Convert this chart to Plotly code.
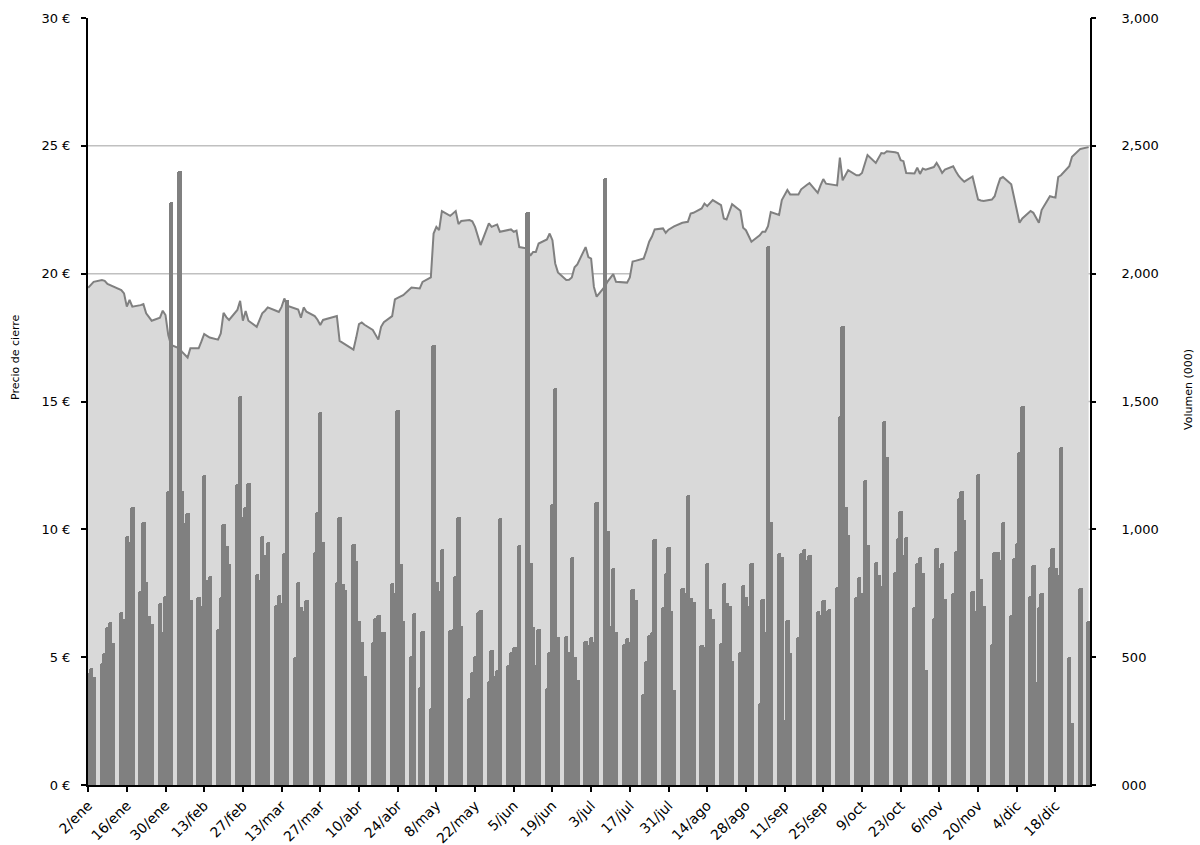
import plotly.graph_objects as go
import pandas as pd

# ---------------- data ----------------
holidays = ["2013-03-29", "2013-04-01", "2013-05-01", "2013-12-25", "2013-12-26"]
trading_days = pd.bdate_range("2013-01-02", "2013-12-30")
trading_days = trading_days[~trading_days.isin(pd.to_datetime(holidays))]

# daily volume (thousands of shares), one line per week
volume = [
    440, 458, 422,
    477, 516, 618, 637, 555,
    677, 650, 974, 950, 1087,
    759, 1029, 794, 661, 630,
    712, 600, 739, 1150, 2280,
    2400, 1150, 1025, 1064, 723,
    735, 700, 1212, 800, 817,
    610, 735, 1021, 935, 864,
    1177, 1520, 1050, 1087, 1181,
    825, 800, 974, 900, 951,
    704, 743, 712, 907, 1897,
    501, 794, 696, 680, 723,
    911, 1068, 1459, 951,
    794, 1048, 786, 763,
    943, 876, 641, 560, 426,
    559, 653, 665, 600, 598,
    790, 750, 1467, 864, 641,
    504, 673, 383, 602,
    301, 1721, 794, 760, 923,
    606, 610, 817, 1048, 622,
    340, 442, 504, 677, 685,
    407, 528, 426, 450, 1043,
    469, 520, 540, 540, 939,
    2242, 868, 618, 470, 610,
    379, 520, 1099, 1552, 580,
    583, 520, 890, 502, 411,
    564, 547, 580, 560, 1108,
    2375, 995, 620, 849, 600,
    551, 575, 560, 766, 723,
    356, 485, 587, 600, 961,
    696, 830, 931, 681, 372,
    770, 750, 1134, 731, 716,
    547, 540, 868, 688, 650,
    555, 790, 712, 700, 485,
    520, 782, 735, 700, 868,
    320, 727, 600, 2109, 1030,
    907, 893, 254, 645, 516,
    579, 907, 923, 880, 899,
    682, 665, 723, 680, 688,
    774, 1443, 1797, 1089, 978,
    735, 813, 750, 1193, 939,
    873, 821, 780, 1425, 1281,
    834, 965, 1073, 900, 971,
    697, 868, 891, 830, 450,
    653, 928, 850, 868, 727,
    752, 916, 1122, 1151, 1036,
    760, 680, 1216, 806, 700,
    551, 911, 912, 880, 1030,
    665, 887, 948, 1303, 1482,
    739, 860, 404, 697, 750,
    854, 928, 849, 820, 1323,
    502, 241, 769,
    641,
]

# daily closing price (EUR), one line per week
price = [
    19.45, 19.55, 19.68,
    19.75, 19.72, 19.60, 19.55, 19.50,
    19.36, 19.23, 18.71, 18.97, 18.71,
    18.77, 18.81, 18.45, 18.28, 18.16,
    18.28, 18.55, 18.38, 17.60, 17.21,
    17.08, 16.94, 16.82, 16.72, 17.08,
    17.08, 17.35, 17.64, 17.57, 17.50,
    17.42, 17.66, 18.47, 18.30, 18.19,
    18.58, 18.94, 18.16, 18.54, 18.16,
    17.92, 18.20, 18.45, 18.55, 18.68,
    18.55, 18.50, 18.70, 19.03, 18.75,
    18.64, 18.60, 18.28, 18.68, 18.51,
    18.34, 18.20, 17.99, 18.19,
    18.34, 17.37, 17.30, 17.24,
    17.03, 17.50, 18.03, 18.09, 18.00,
    17.80, 17.60, 17.42, 17.92, 18.10,
    18.34, 18.99, 19.05, 19.12, 19.16,
    19.46, 19.45, 19.42, 19.68,
    19.85, 21.57, 21.83, 21.70, 22.45,
    22.26, 22.35, 22.45, 21.94, 22.06,
    22.10, 22.05, 21.83, 21.50, 21.12,
    21.97, 21.83, 21.88, 21.92, 21.64,
    21.70, 21.73, 21.64, 21.68, 21.04,
    20.98, 20.70, 20.85, 20.85, 21.18,
    21.34, 21.57, 21.31, 20.40, 20.05,
    19.75, 19.76, 19.85, 20.25, 20.36,
    21.04, 20.65, 20.59, 19.49, 19.10,
    19.50, 19.70, 19.85, 19.98, 19.68,
    19.67, 19.65, 19.85, 20.47, 20.50,
    20.59, 20.90, 21.25, 21.45, 21.73,
    21.77, 21.60, 21.72, 21.80, 21.85,
    21.99, 22.00, 22.03, 22.35, 22.38,
    22.55, 22.74, 22.64, 22.76, 22.88,
    22.68, 22.16, 22.12, 22.45, 22.72,
    22.46, 21.80, 21.70, 21.45, 21.25,
    21.50, 21.64, 21.64, 21.86, 22.41,
    22.30, 22.88, 23.05, 23.27, 23.10,
    23.10, 23.30, 23.40, 23.47, 23.54,
    23.16, 23.45, 23.70, 23.52, 23.50,
    23.45, 24.54, 23.65, 23.85, 24.05,
    23.85, 23.85, 23.94, 24.30, 24.64,
    24.33, 24.55, 24.72, 24.70, 24.79,
    24.75, 24.72, 24.44, 24.40, 23.94,
    23.92, 24.15, 23.90, 24.11, 24.07,
    24.17, 24.33, 24.15, 23.94, 24.07,
    24.20, 24.00, 23.82, 23.70, 23.60,
    23.80, 23.30, 22.90, 22.86, 22.84,
    22.90, 23.03, 23.40, 23.72, 23.78,
    23.50, 23.00, 22.49, 21.99, 22.16,
    22.45, 22.38, 22.20, 21.99, 22.49,
    23.03, 23.00, 22.98, 23.78, 23.85,
    24.20, 24.57, 24.88,
    24.95,
]

tick_dates = ["2013-01-02", "2013-01-16", "2013-01-30", "2013-02-13", "2013-02-27",
              "2013-03-13", "2013-03-27", "2013-04-10", "2013-04-24", "2013-05-08",
              "2013-05-22", "2013-06-05", "2013-06-19", "2013-07-03", "2013-07-17",
              "2013-07-31", "2013-08-14", "2013-08-28", "2013-09-11", "2013-09-25",
              "2013-10-09", "2013-10-23", "2013-11-06", "2013-11-20", "2013-12-04",
              "2013-12-18"]
tick_labels = ["2/ene", "16/ene", "30/ene", "13/feb", "27/feb", "13/mar", "27/mar",
               "10/abr", "24/abr", "8/may", "22/may", "5/jun", "19/jun", "3/jul",
               "17/jul", "31/jul", "14/ago", "28/ago", "11/sep", "25/sep", "9/oct",
               "23/oct", "6/nov", "20/nov", "4/dic", "18/dic"]

price_ticks = [0, 5, 10, 15, 20, 25, 30]
price_tick_text = ["0 €", "5 €", "10 €", "15 €", "20 €", "25 €", "30 €"]
volume_ticks = [0, 500, 1000, 1500, 2000, 2500, 3000]
volume_tick_text = ["000", "500", "1,000", "1,500", "2,000", "2,500", "3,000"]
grid_levels = [5, 10, 15, 20, 25]

left_title = "Precio de cierre"
right_title = "Volumen (000)"

assert len(volume) == len(trading_days) == len(price)

# ---------------- figure ----------------
GREY = "#808080"
FONT = "DejaVu Sans"
DAY_MS = 86400000

W, H = 1200, 845
ML, MR, MT, MB = 88, 110, 18, 60
PW, PH = W - ML - MR, H - MT - MB


def px_to_paper_x(px):
    return (px - ML) / PW


def px_to_paper_y(py):
    return (H - MB - py) / PH


fig = go.Figure()
fig.add_trace(go.Scatter(
    x=trading_days, y=price, mode="lines", fill="tozeroy",
    fillcolor="#d9d9d9", line=dict(color=GREY, width=2),
    yaxis="y", hoverinfo="skip", showlegend=False,
))
fig.add_trace(go.Bar(
    x=trading_days, y=volume, yaxis="y2", width=1.6 * DAY_MS,
    marker=dict(color=GREY, line=dict(width=0), cornerradius=2),
    showlegend=False,
))
# invisible point so that the tick-mark-only axis yaxis3 is drawn
fig.add_trace(go.Scatter(x=[trading_days[0]], y=[0], yaxis="y3", mode="markers",
                         marker=dict(opacity=0), hoverinfo="skip", showlegend=False))

for g in grid_levels:
    fig.add_shape(type="line", xref="paper", yref="y", x0=0, x1=1, y0=g, y1=g,
                  line=dict(color="#c0c0c0", width=1.5), layer="below")

axis_common = dict(showline=True, linecolor="black", linewidth=2, showgrid=False,
                   zeroline=False, automargin=False)
tick_common = dict(ticks="outside", ticklen=5, tickcolor="black", tickwidth=1.5)

fig.update_layout(
    width=W, height=H,
    margin=dict(l=ML, r=MR, t=MT, b=MB, autoexpand=False),
    paper_bgcolor="white", plot_bgcolor="white",
    barmode="overlay", bargap=0,
    font=dict(family=FONT, size=13, color="black"),
    xaxis=dict(type="date", range=["2013-01-01 23:00", "2013-12-30 12:00"],
               tickmode="array", tickvals=tick_dates, ticktext=tick_labels,
               tickangle=-45, tickfont=dict(family=FONT, size=14, color="black"),
               **tick_common, **axis_common),
    yaxis=dict(range=[0, 30], tickmode="array", tickvals=price_ticks,
               ticktext=price_tick_text, ticklabelstandoff=8,
               tickfont=dict(family=FONT, size=13, color="black"),
               **tick_common, **axis_common),
    # right axis: labels pushed out with long transparent ticks
    yaxis2=dict(range=[0, 3000], overlaying="y", side="right", tickmode="array",
                tickvals=volume_ticks, ticktext=volume_tick_text,
                ticks="outside", ticklen=27, tickcolor="rgba(0,0,0,0)",
                tickfont=dict(family=FONT, size=13, color="black"), **axis_common),
    # right axis: visible short tick marks
    yaxis3=dict(range=[0, 3000], overlaying="y", side="right", tickmode="array",
                tickvals=volume_ticks, showticklabels=False, **tick_common,
                showline=False, showgrid=False, zeroline=False, automargin=False),
    annotations=[
        dict(text=left_title, xref="paper", yref="paper", x=px_to_paper_x(15),
             y=px_to_paper_y(357), xanchor="center", yanchor="middle",
             textangle=-90, showarrow=False,
             font=dict(family=FONT, size=11, color="black")),
        dict(text=right_title, xref="paper", yref="paper", x=px_to_paper_x(1189),
             y=px_to_paper_y(390), xanchor="center", yanchor="middle",
             textangle=-90, showarrow=False,
             font=dict(family=FONT, size=11, color="black")),
    ],
)

# remove the browser's default 8px body margin so the figure fills the window
fig.write_html("out.html", config={"displayModeBar": False},
               post_script="document.body.style.margin='0px';")
